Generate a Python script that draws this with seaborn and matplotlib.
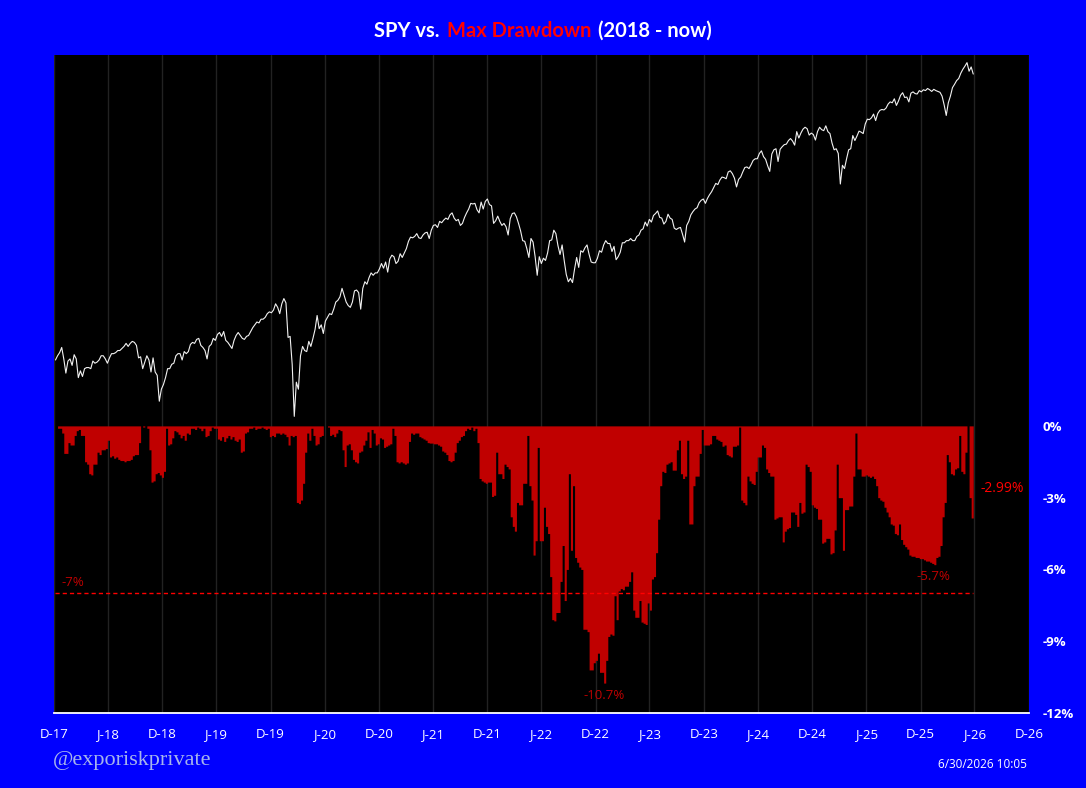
import matplotlib

matplotlib.use("Agg")

import matplotlib.pyplot as plt
import numpy as np
import pandas as pd
import seaborn as sns
from matplotlib.offsetbox import AnchoredOffsetbox, HPacker, TextArea
from matplotlib.ticker import NullLocator

# Weekly (Friday) SPY closes
SPY_2018 = [274, 278, 281, 286, 275, 262, 273, 275, 269, 279, 275, 258, 264, 259, 266, 267, 267, 266,
            273, 271, 272, 274, 278, 278, 275, 271, 276, 280, 280, 281, 283, 283, 285, 287, 290, 287,
            290, 292, 291, 288, 276, 277, 266, 272, 278, 274, 263, 276, 263, 260, 238, 248]
SPY_2019 = [252, 258, 266, 266, 270, 271, 278, 280, 280, 274, 282, 280, 282, 289, 291, 290, 294, 295,
            288, 286, 283, 275, 287, 289, 295, 293, 299, 301, 297, 302, 293, 291, 288, 285, 293, 298,
            301, 298, 295, 294, 297, 298, 302, 306, 309, 312, 311, 315, 315, 317, 321, 323]
SPY_2020 = [322, 325, 332, 328, 321, 332, 338, 333, 296, 297, 270, 226, 254, 248, 278, 287, 283, 282,
            292, 287, 295, 304, 319, 305, 309, 300, 313, 317, 321, 320, 326, 334, 336, 340, 350, 342,
            334, 330, 328, 334, 347, 348, 345, 326, 350, 358, 355, 363, 369, 366, 369, 369]
SPY_2021 = [374, 381, 375, 383, 370, 387, 392, 390, 381, 384, 394, 389, 395, 401, 411, 417, 416, 418,
            422, 416, 415, 420, 423, 424, 415, 427, 434, 435, 431, 440, 438, 442, 445, 443, 450, 453,
            445, 441, 443, 434, 437, 446, 453, 459, 468, 467, 468, 458, 453, 470, 459, 471, 475]
SPY_2022 = [466, 464, 437, 441, 448, 440, 434, 437, 432, 420, 444, 452, 453, 447, 437, 426, 412, 411,
            401, 389, 415, 410, 390, 366, 390, 381, 388, 385, 395, 412, 413, 427, 422, 405, 393, 406,
            385, 367, 358, 362, 357, 374, 389, 376, 398, 396, 402, 406, 393, 383, 382, 382]
SPY_2023 = [388, 398, 396, 406, 412, 408, 408, 397, 404, 386, 390, 396, 409, 409, 412, 412, 415, 412,
            412, 418, 420, 427, 429, 439, 433, 443, 439, 449, 452, 456, 446, 445, 436, 440, 451, 445,
            443, 430, 428, 430, 431, 421, 410, 434, 440, 450, 455, 459, 461, 469, 473, 475]
SPY_2024 = [468, 476, 482, 487, 494, 501, 499, 507, 512, 511, 509, 521, 523, 518, 510, 495, 508, 512,
            521, 529, 530, 527, 534, 542, 545, 545, 555, 560, 549, 544, 532, 522, 554, 562, 564, 540,
            563, 568, 572, 573, 580, 584, 579, 571, 598, 585, 595, 603, 607, 604, 591, 595]
SPY_2025 = [592, 581, 598, 607, 602, 600, 610, 598, 594, 575, 562, 564, 555, 500, 533, 527, 545, 562,
            564, 590, 580, 589, 599, 597, 594, 614, 624, 623, 627, 635, 621, 636, 643, 645, 644, 648,
            657, 662, 660, 669, 654, 664, 677, 683, 672, 673, 662, 682, 685, 681, 680, 688]
SPY_2026 = [685, 690, 688, 693, 690, 686, 691, 688, 686, 684, 675, 655, 632, 660, 675, 695, 703, 712,
            717, 730, 740, 748, 757, 735, 746, 728]

# Weekly max drawdown in %
DD_2018 = [0, -0.1, -0.1, -0.3, -1.15, -1.15, -0.7, -0.8, -0.8, -0.4, -0.2, -0.15, -0.4, -0.4,
           -1.5, -1.6, -2.0, -2.05, -1.6, -1.6, -1.1, -1.2, -1.0, -1.0, -0.95, -0.6, -1.3, -1.25,
           -1.35, -1.3, -1.4, -1.45, -1.45, -1.5, -1.45, -1.45, -1.4, -1.25, -1.2, -1.2, -0.7, 0,
           -0.05, 0, -0.1, -1.0, -2.35, -2.3, -2.0, -1.95, -2.05, -2.15]
DD_2019 = [-1.9, -0.1, -0.8, -0.75, -0.5, -0.2, -0.25, -0.35, -0.5, -0.4, -0.6, -0.3, -0.35, -0.1,
           -0.1, -0.15, -0.05, -0.1, -0.2, -0.1, -0.45, -0.4, -0.2, -0.05, -0.1, -0.1, -0.55, -0.6,
           -0.45, -0.65, -0.5, -0.4, -0.55, -0.45, -0.6, -0.65, -0.55, -1.1, -1.05, -0.3, -0.25,
           -0.1, -0.1, -0.05, -0.15, -0.1, -0.1, -0.05, -0.1, -0.15, -0.1, -0.45]
DD_2020 = [-0.4, -0.45, -0.3, -0.3, -0.35, -0.3, -0.35, -0.45, -0.8, -0.4, -0.45, -0.4, -3.2, -3.25,
           -3.1, -2.4, -1.1, -0.3, -0.6, -0.1, -0.4, -0.8, -0.75, -0.45, -0.4, 0, 0, -0.05, -0.4,
           -0.35, -0.45, -0.3, -0.15, -0.2, -1.0, -1.7, -0.8, -0.75, -1.0, -1.4, -1.5, -1.55, -1.1,
           -1.05, -0.8, -0.6, -0.25, -0.9, -0.15, -0.3, -0.8, -0.75]
DD_2021 = [-0.5, -0.55, -0.9, -0.85, -0.8, -0.75, -0.1, -0.4, -1.5, -1.55, -1.5, -1.55, -1.6, -1.55,
           -0.65, -0.3, -0.35, -0.3, -0.3, -0.45, -0.5, -0.55, -0.6, -0.7, -0.72, -0.72, -0.75,
           -0.75, -0.8, -0.85, -1.05, -1.1, -1.2, -1.45, -1.5, -1.45, -1.1, -0.7, -0.6, -0.45, -0.4,
           -0.2, -0.1, -0.15, -0.05, -0.2, -0.1, -0.7, -2.2, -2.3, -2.35, -2.4, -2.35]
DD_2022 = [-2.35, -2.95, -2.9, -1.1, -2.0, -2.0, -2.2, -1.6, -1.7, -1.8, -3.8, -4.2, -4.4, -3.2,
           -3.3, -3.3, -2.4, -2.4, -0.4, -2.5, -3.1, -5.4, -4.8, -0.9, -4.8, -4.8, -3.4, -4.2, -4.5,
           -6.3, -8.1, -8.15, -7.8, -7.8, -6.5, -5.0, -7.3, -6.0, -2.0, -5.2, -2.5, -5.5, -5.7,
           -5.9, -6.0, -8.5, -8.5, -8.6, -10.2, -10.2, -9.9, -9.8]
DD_2023 = [-9.5, -10.3, -10.3, -10.75, -9.8, -8.8, -8.7, -8.75, -7.1, -8.1, -6.9, -6.8, -6.85, -6.7,
           -6.7, -6.5, -6.1, -7.7, -8.0, -8.0, -7.3, -8.2, -8.25, -8.3, -7.4, -7.7, -6.4, -6.3,
           -5.3, -3.9, -2.5, -1.9, -1.95, -1.6, -1.55, -1.5, -1.85, -1.85, -1.0, -0.6, -2.0, -2.2,
           -2.1, -0.6, -4.1, -4.1, -2.5, -2.1, -2.1, -1.15, -0.15, -0.8]
DD_2024 = [-0.8, -0.8, -0.75, -0.4, -0.4, -0.55, -0.6, -0.65, -0.85, -0.8, -1.2, -1.25, -1.3, -0.85,
           -0.85, -0.8, -0.05, -3.1, -3.2, -3.3, -2.1, -2.3, -2.4, -2.45, -1.9, -1.3, -1.3, -0.8,
           -0.9, -1.8, -1.95, -2.1, -2.1, -3.9, -3.85, -3.8, -3.8, -4.85, -4.4, -4.3, -4.25, -3.6,
           -3.6, -3.7, -4.2, -3.2, -3.65, -3.6, -1.6, -1.7, -1.9, -3.3]
DD_2025 = [-3.4, -3.45, -3.9, -3.9, -4.9, -4.85, -4.7, -4.7, -5.35, -5.3, -4.35, -1.6, -3.0, -3.0,
           -5.2, -3.5, -3.5, -3.35, -3.35, -2.1, -0.3, -1.8, -1.8, -2.1, -2.1, -2.05, -2.1, -2.15,
           -2.1, -2.2, -2.5, -3.0, -3.1, -3.15, -3.4, -3.6, -3.8, -4.1, -4.15, -4.5, -4.55, -4.1,
           -4.75, -4.95, -5.05, -5.15, -5.4, -5.45, -5.45, -5.5, -5.5, -5.55]
DD_2026 = [-5.55, -5.6, -5.65, -5.65, -5.7, -5.75, -5.8, -5.5, -5.45, -5.0, -3.8, -3.2, -1.2, -1.5,
           -2.0, -2.05, -1.8, -1.75, -0.4, -1.9, -2.0, -1.1, 0, -3.0, -3.85, -4.15]

FIRST_FRIDAY = "2018-01-05"
TICK_YEARS = range(2017, 2027)
Y_TICKS = [0, -3, -6, -9, -12]
THRESHOLD = -7
TITLE_PARTS = [("SPY vs.", "white"), ("Max Drawdown", "#ff0000"), ("(2018 - now)", "white")]
LABEL_THRESHOLD = "-7%"
LABEL_TROUGH = "-10.7%"
LABEL_RECENT_LOW = "-5.7%"
LABEL_CURRENT = "-2.99%"
WATERMARK = "@exporiskprivate"
STAMP = "6/30/2026 10:05"

BLUE = "#0000ff"
DD_RED = "#c00000"
BRIGHT_RED = "#ff0000"

spy = (SPY_2018 + SPY_2019 + SPY_2020 + SPY_2021 + SPY_2022 + SPY_2023 + SPY_2024
       + SPY_2025 + SPY_2026)
dd = DD_2018 + DD_2019 + DD_2020 + DD_2021 + DD_2022 + DD_2023 + DD_2024 + DD_2025 + DD_2026

spy_df = pd.DataFrame({"date": pd.date_range(FIRST_FRIDAY, periods=len(spy), freq="W-FRI"),
                       "spy": spy})
dd_df = pd.DataFrame({"date": pd.date_range(FIRST_FRIDAY, periods=len(dd), freq="W-FRI"),
                      "dd": dd})

sns.set_theme(style="dark")
plt.rcParams["font.family"] = ["Open Sans", "DejaVu Sans"]

fig = plt.figure(figsize=(10.86, 7.88), dpi=100, facecolor=BLUE)
ax = fig.add_axes([54 / 1086, 75 / 788, 975 / 1086, 658 / 788])
ax.set_facecolor("black")

# price line on a hidden log axis
ax.set_yscale("log")
sns.lineplot(data=spy_df, x="date", y="spy", ax=ax, color="#f2f2f2", linewidth=0.8)
ax.set_ylim(82, 777)
ax.yaxis.set_major_locator(NullLocator())
ax.yaxis.set_minor_locator(NullLocator())
ax.set_xlabel("")
ax.set_ylabel("")

# drawdown on the right axis
ax2 = ax.twinx()
ax2.fill_between(dd_df["date"], dd_df["dd"], 0, step="post", color=DD_RED, linewidth=0)
ax2.hlines(THRESHOLD, dd_df["date"].iloc[0], dd_df["date"].iloc[-1], colors=BRIGHT_RED,
           linestyles=(0, (3, 2.2)), linewidth=1)
ax2.set_ylim(-12, 15.5)
ax2.set_yticks(Y_TICKS)
ax2.set_yticklabels([f"{v}%" for v in Y_TICKS])
ax2.tick_params(axis="y", length=0, pad=10, labelcolor="white", labelsize=9.5)
for lbl in ax2.get_yticklabels():
    lbl.set_fontweight("bold")
ax2.grid(False)

# annotations
ax2.text(dd_df["date"].iloc[3], THRESHOLD + 0.45, LABEL_THRESHOLD, color=DD_RED,
         fontsize=9.5, ha="left", va="center")
i_min = int(np.argmin(dd))
ax2.text(dd_df["date"].iloc[i_min], dd[i_min] - 0.5, LABEL_TROUGH, color=DD_RED,
         fontsize=9.5, ha="center", va="center")
j_min = len(dd) - 30 + int(np.argmin(dd[-30:]))
ax2.text(dd_df["date"].iloc[j_min], dd[j_min] - 0.5, LABEL_RECENT_LOW, color=DD_RED,
         fontsize=9.5, ha="center", va="center")
ax2.text(dd_df["date"].iloc[-1] + pd.Timedelta(days=26), -2.6, LABEL_CURRENT, color=BRIGHT_RED,
         fontsize=10, ha="left", va="center")

# x axis: half-year ticks labelled D-17, J-18, ...
ticks = [pd.Timestamp(y, m, d) for y in TICK_YEARS for (m, d) in ((6, 30), (12, 31))][1:]
ax.set_xticks(ticks)
ax.set_xticklabels([f"{t:%b}"[0] + f"-{t:%y}" for t in ticks])
ax.set_xlim(ticks[0], ticks[-1])
ax.tick_params(axis="x", colors="white", length=3.5, width=1, direction="out",
               labelsize=9.5, pad=7)
ax.grid(axis="x", color="#222222", linewidth=1)
ax.grid(axis="y", visible=False)

for a in (ax, ax2):
    for s in a.spines.values():
        s.set_visible(False)
ax.spines["bottom"].set_visible(True)
ax.spines["bottom"].set_color("white")
ax.spines["bottom"].set_linewidth(1.3)

# title in three colours
parts = [TextArea(txt, textprops=dict(color=c, fontsize=14.5, fontweight="bold",
                                      family=["Lato", "DejaVu Sans"]))
         for txt, c in TITLE_PARTS]
title_box = AnchoredOffsetbox(loc="center", child=HPacker(children=parts, align="baseline",
                                                         pad=0, sep=5),
                              frameon=False, bbox_to_anchor=(0.5, 1 - 31 / 788),
                              bbox_transform=fig.transFigure, borderpad=0)
fig.add_artist(title_box)

fig.text(53 / 1086, 1 - 760 / 788, WATERMARK, family=["Liberation Serif", "DejaVu Serif"],
         fontsize=16, color="#a6b4ec", ha="left", va="center")
fig.text(1027 / 1086, 1 - 764 / 788, STAMP, fontsize=8.5, color="white", ha="right",
         va="center")

fig.savefig("out.png", dpi=100, facecolor=BLUE)
